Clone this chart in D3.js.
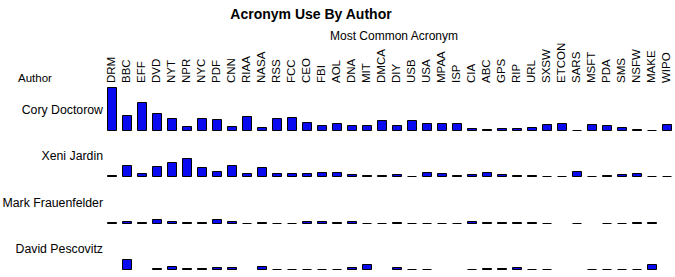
<!DOCTYPE html>
<html>
<head>
<meta charset="utf-8">
<script src="https://cdn.jsdelivr.net/npm/d3@7/dist/d3.min.js"></script>
<style>
  html, body { margin: 0; padding: 0; background: #fff; }
  svg { display: block; }
  text { font-family: "Liberation Sans", Arial, sans-serif; fill: #000; }
</style>
</head>
<body>
<div id="chart"></div>
<script>
const title = "Acronym Use By Author";
const columnTitle = "Most Common Acronym";
const rowTitle = "Author";

const acronyms = ["DRM","BBC","EFF","DVD","NYT","NPR","NYC","PDF","CNN","RIAA","NASA","RSS","FCC","CEO","FBI","AOL","DNA","MIT","DMCA","DIY","USB","USA","MPAA","ISP","CIA","ABC","GPS","RIP","URL","SXSW","ETCON","SARS","MSFT","PDA","SMS","NSFW","MAKE","WIPO"];

const authors = ["Cory Doctorow","Xeni Jardin","Mark Frauenfelder","David Pescovitz"];

// relative usage per acronym (null = not used at all)
const cory  = [43,15,28,17,12,4,12,11,4,14,3,12,13,8,5,7,5,5,10,5,10,7,7,7,2,1,2,2,3,6,7,0,6,5,3,1,0,6];
const xeni  = [1,11,3,10,14,18,9,5,11,3,9,3,3,3,4,4,2,1,1,2,0,4,3,1,2,4,2,1,1,0,0,5,0,1,2,3,0,0];
const mark  = [1,2,1,4,2,1,1,4,2,0,1,0,0,2,2,1,2,0,0,1,0,0,0,0,2,1,1,1,1,0,null,0,null,0,0,1,1,null];
const david = [null,10,null,1,3,1,1,2,2,null,3,0,0,0,0,0,2,5,null,2,0,0,null,null,0,1,1,2,0,0,null,null,0,0,0,0,5,null];

const seriesValues = [cory, xeni, mark, david];

const W = 675, H = 277;
const svg = d3.select("#chart").append("svg").attr("width", W).attr("height", H);

const x = d3.scalePoint().domain(acronyms).range([111, 666]);
const rowBase = d3.scalePoint().domain(authors).range([129.5, 269]);
const h = d3.scaleLinear().domain([0, 43]).range([0, 43]);
const barW = 9;

svg.append("text").attr("x", 311).attr("y", 19)
  .attr("text-anchor", "middle").style("font-size", "14px").style("font-weight", "bold")
  .text(title);

svg.append("text").attr("x", 394).attr("y", 40)
  .attr("text-anchor", "middle").style("font-size", "12px")
  .text(columnTitle);

svg.append("text").attr("x", 18).attr("y", 82)
  .style("font-size", "11.5px").text(rowTitle);

svg.append("g").selectAll("text").data(acronyms).join("text")
  .attr("transform", d => `translate(${x(d) + 4},83) rotate(-90)`)
  .style("font-size", "11.5px")
  .text(d => d);

svg.append("g").selectAll("text").data(authors).join("text")
  .attr("x", 103).attr("y", d => rowBase(d) - 16)
  .attr("text-anchor", "end").style("font-size", "12.3px")
  .text(d => d);

const rows = svg.append("g").selectAll("g").data(authors).join("g");
rows.each(function(author, ai) {
  const base = Math.round(rowBase(author)) + 0.5;
  const data = acronyms.map((a, i) => ({a, v: seriesValues[ai][i]})).filter(d => d.v !== null);
  d3.select(this).selectAll("path").data(data).join("path")
    .attr("d", d => {
      const x0 = Math.round(x(d.a) - barW / 2) + 0.5;
      const bh = Math.round(h(d.v));
      const p = d3.path();
      if (bh === 0) {
        p.moveTo(x0, base); p.lineTo(x0 + barW, base);
      } else {
        p.rect(x0, base - bh, barW, bh);
      }
      return p.toString();
    })
    .attr("fill", "#0a0af0")
    .attr("stroke", "#000")
    .attr("stroke-width", 1);
});
</script>
</body>
</html>
